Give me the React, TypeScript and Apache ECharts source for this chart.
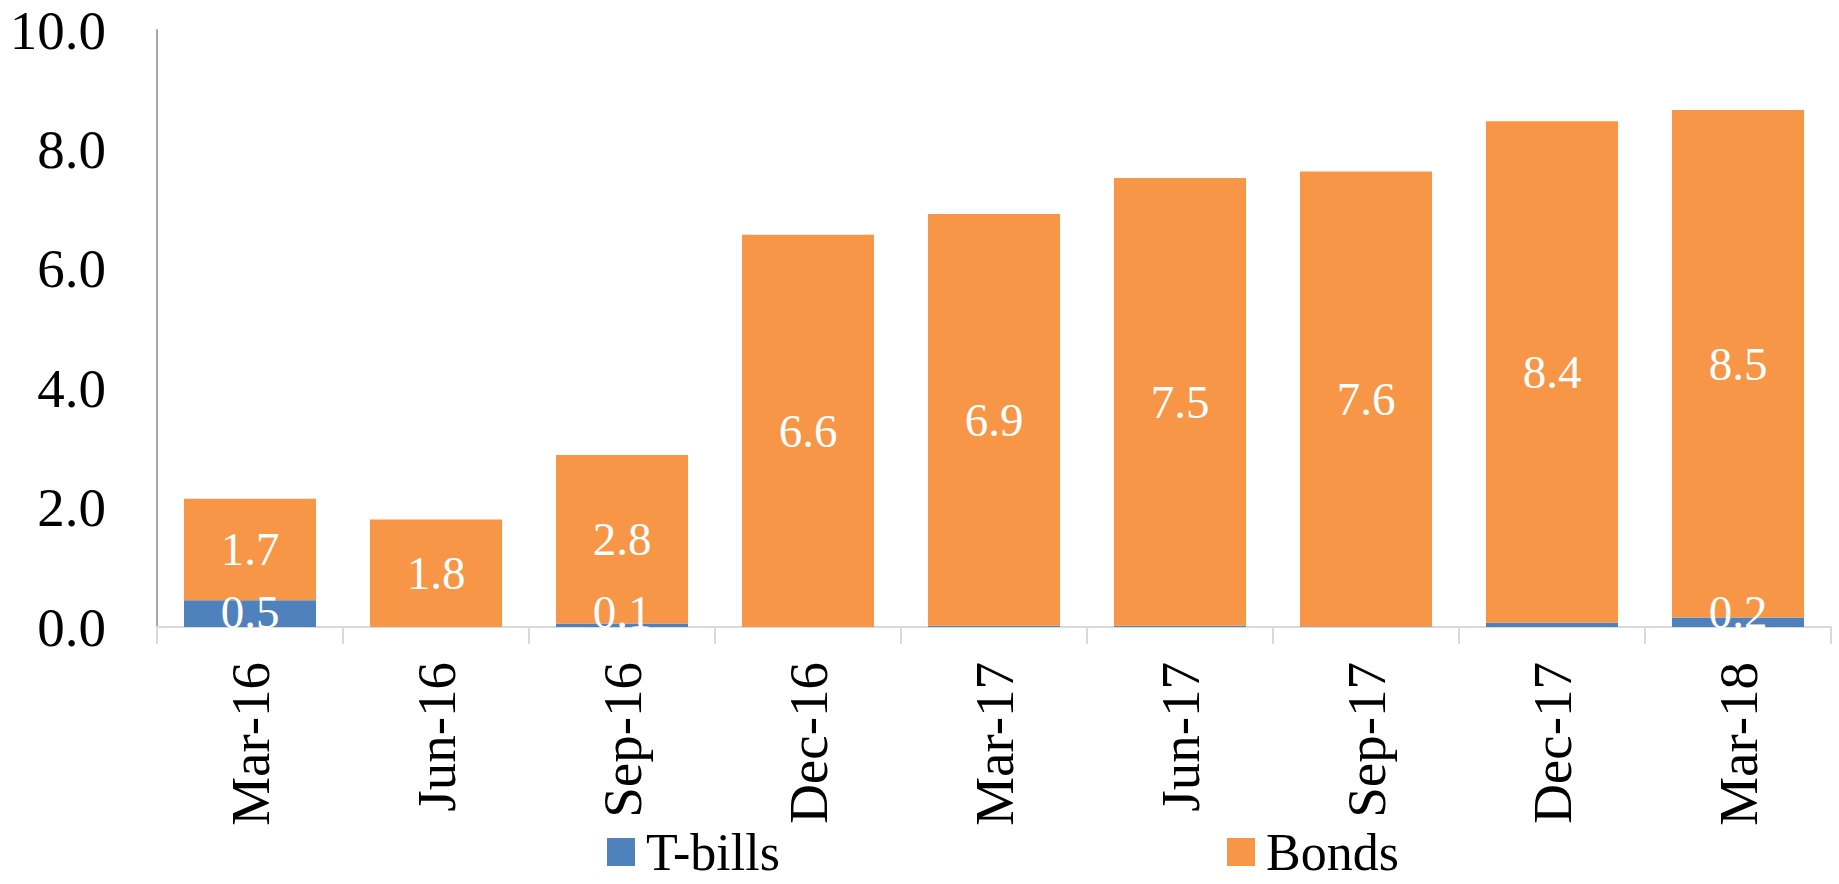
import React, { useEffect, useRef } from "react";
import * as echarts from "echarts";

const categories = ["Mar-16", "Jun-16", "Sep-16", "Dec-16", "Mar-17", "Jun-17", "Sep-17", "Dec-17", "Mar-18"];
const tBills = [0.45, 0, 0.06, 0, 0.02, 0.02, 0.01, 0.07, 0.16];
const tBillsLabelShown = [true, false, true, false, false, false, false, false, true];
const bonds = [1.7, 1.8, 2.82, 6.57, 6.9, 7.5, 7.62, 8.4, 8.5];
const yTicks = { min: 0, max: 10, interval: 2 };

const FONT = "'Liberation Serif', 'Times New Roman', serif";

export default function App() {
  const ref = useRef<HTMLDivElement>(null);
  useEffect(() => {
    if (!ref.current) return;
    const chart = echarts.init(ref.current, null, { renderer: "svg" });
    const fmt = (p: any) => Number(p.value).toFixed(1);
    const legendText = { fontSize: 52, lineHeight: 40, fontFamily: FONT, color: "#000", padding: [0, 0, 0, 6] };
    chart.setOption({
      animation: false,
      backgroundColor: "#ffffff",
      grid: { left: 157, right: 8, top: 30, bottom: 257, containLabel: false },
      legend: [
        {
          data: ["T-bills"],
          left: 607,
          top: 826,
          padding: 0,
          itemWidth: 28,
          itemHeight: 28,
          icon: "rect",
          textStyle: legendText,
        },
        {
          data: ["Bonds"],
          left: 1227,
          top: 826,
          padding: 0,
          itemWidth: 28,
          itemHeight: 28,
          icon: "rect",
          textStyle: legendText,
        },
      ],
      xAxis: {
        type: "category",
        data: categories,
        axisLine: { show: true, lineStyle: { color: "#d9d9d9", width: 2 } },
        axisTick: { show: true, length: 17, interval: 0, lineStyle: { color: "#d9d9d9", width: 2 } },
        axisLabel: { rotate: 90, margin: 35, interval: 0, fontSize: 55, fontFamily: FONT, color: "#000" },
        splitLine: { show: false },
      },
      yAxis: {
        type: "value",
        min: yTicks.min,
        max: yTicks.max,
        interval: yTicks.interval,
        axisLine: { show: true, lineStyle: { color: "#a6a6a6", width: 2 } },
        axisTick: { show: false },
        splitLine: { show: false },
        axisLabel: {
          margin: 51,
          fontSize: 55,
          fontFamily: FONT,
          color: "#000",
          formatter: (v: number) => v.toFixed(1),
        },
      },
      series: [
        {
          name: "T-bills",
          type: "bar",
          stack: "total",
          barCategoryGap: "29%",
          itemStyle: { color: "#4F81BD" },
          data: tBills.map((v, i) => ({
            value: v,
            label: { show: tBillsLabelShown[i] },
          })),
          label: {
            show: true,
            position: "insideBottom",
            distance: -8,
            color: "#fff",
            fontSize: 47,
            fontFamily: FONT,
            formatter: fmt,
          },
        },
        {
          name: "Bonds",
          type: "bar",
          stack: "total",
          barCategoryGap: "29%",
          itemStyle: { color: "#F79646" },
          data: bonds,
          label: {
            show: true,
            position: "inside",
            color: "#fff",
            fontSize: 47,
            fontFamily: FONT,
            formatter: fmt,
          },
        },
      ],
    });
    return () => chart.dispose();
  }, []);
  return (
    <div
      ref={ref}
      style={{ position: "fixed", left: 0, top: 0, width: 1839, height: 884, background: "#fff" }}
    />
  );
}
